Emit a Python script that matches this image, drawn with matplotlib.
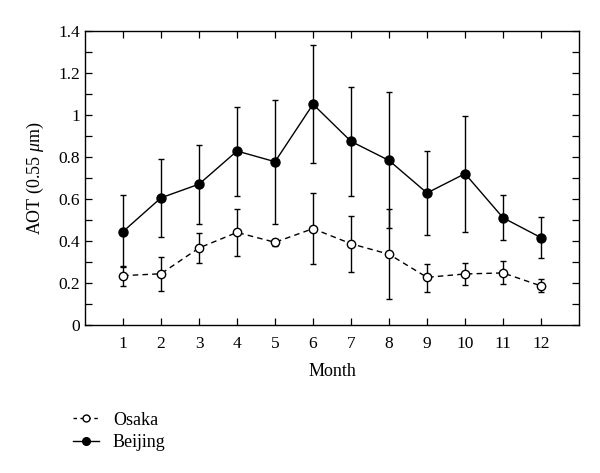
import numpy as np
import matplotlib
matplotlib.use("Agg")
import matplotlib.pyplot as plt
from matplotlib.lines import Line2D
from matplotlib.ticker import MultipleLocator

plt.rcParams["font.family"] = ["Liberation Serif", "DejaVu Serif"]
plt.rcParams["mathtext.fontset"] = "custom"
plt.rcParams["mathtext.it"] = "Liberation Serif:italic"
plt.rcParams["mathtext.rm"] = "Liberation Serif"

months = np.arange(1, 13)

# Beijing AOT mean and error bounds
beijing = [0.445, 0.606, 0.671, 0.829, 0.778, 1.052, 0.875, 0.784, 0.629, 0.721, 0.511, 0.416]
beijing_hi = [0.618, 0.792, 0.856, 1.040, 1.071, 1.336, 1.133, 1.108, 0.830, 0.998, 0.621, 0.514]
beijing_lo = [0.278, 0.419, 0.483, 0.616, 0.482, 0.770, 0.616, 0.462, 0.427, 0.441, 0.403, 0.317]

# Osaka AOT mean and error bounds
osaka = [0.235, 0.244, 0.367, 0.441, 0.394, 0.459, 0.387, 0.337, 0.227, 0.243, 0.248, 0.186]
osaka_hi = [0.282, 0.324, 0.438, 0.551, 0.412, 0.629, 0.520, 0.551, 0.290, 0.295, 0.303, 0.218]
osaka_lo = [0.187, 0.163, 0.295, 0.330, 0.375, 0.292, 0.254, 0.124, 0.159, 0.192, 0.194, 0.157]

yticks = [0, 0.2, 0.4, 0.6, 0.8, 1.0, 1.2, 1.4]
ytick_labels = ["0", "0.2", "0.4", "0.6", "0.8", "1", "1.2", "1.4"]


def err(mean, lo, hi):
    mean = np.array(mean)
    return np.vstack([mean - np.array(lo), np.array(hi) - mean])


fig = plt.figure(figsize=(6.0, 4.73), dpi=100)
ax = fig.add_axes([0.1417, 0.313, 0.8233, 0.621])

dash = (0, (4, 3))
ax.errorbar(months, osaka, yerr=err(osaka, osaka_lo, osaka_hi), color="black",
            lw=1.0, ls=dash, marker="o", ms=6, mfc="white", mec="black",
            mew=1.0, elinewidth=1.0, capsize=2.2, capthick=1.0, zorder=3)
ax.errorbar(months, beijing, yerr=err(beijing, beijing_lo, beijing_hi), color="black",
            lw=1.0, ls="-", marker="o", ms=6.5, mfc="black", mec="black",
            elinewidth=1.0, capsize=2.2, capthick=1.0, zorder=3)

ax.set_xlim(0, 13)
ax.set_ylim(0, 1.4)
ax.set_xticks(months)
ax.set_yticks(yticks)
ax.set_yticklabels(ytick_labels)
ax.yaxis.set_minor_locator(MultipleLocator(0.1))
ax.tick_params(which="both", direction="in", top=True, right=True, labelsize=12.5)
ax.tick_params(which="major", length=5, width=0.9)
ax.tick_params(which="minor", length=5, width=0.9)
ax.tick_params(axis="x", pad=8)
for s in ax.spines.values():
    s.set_linewidth(1.0)

ax.set_xlabel("Month", fontsize=13, labelpad=8)
ax.set_ylabel(r"AOT (0.55 $\mathit{\mu}$m)", fontsize=13, labelpad=9)

handles = [
    Line2D([], [], color="black", lw=1.0, ls=(0, (2.5, 2.5)), marker="o", ms=5,
           mfc="white", mec="black"),
    Line2D([], [], color="black", lw=1.0, ls="-", marker="o", ms=5.5,
           mfc="black", mec="black"),
]
fig.legend(handles, ["Osaka", "Beijing"], loc="lower left",
           bbox_to_anchor=(0.095, 0.012), frameon=False, fontsize=13,
           handlelength=1.4, handletextpad=0.8, labelspacing=0.3)

fig.savefig("out.png", dpi=100)
